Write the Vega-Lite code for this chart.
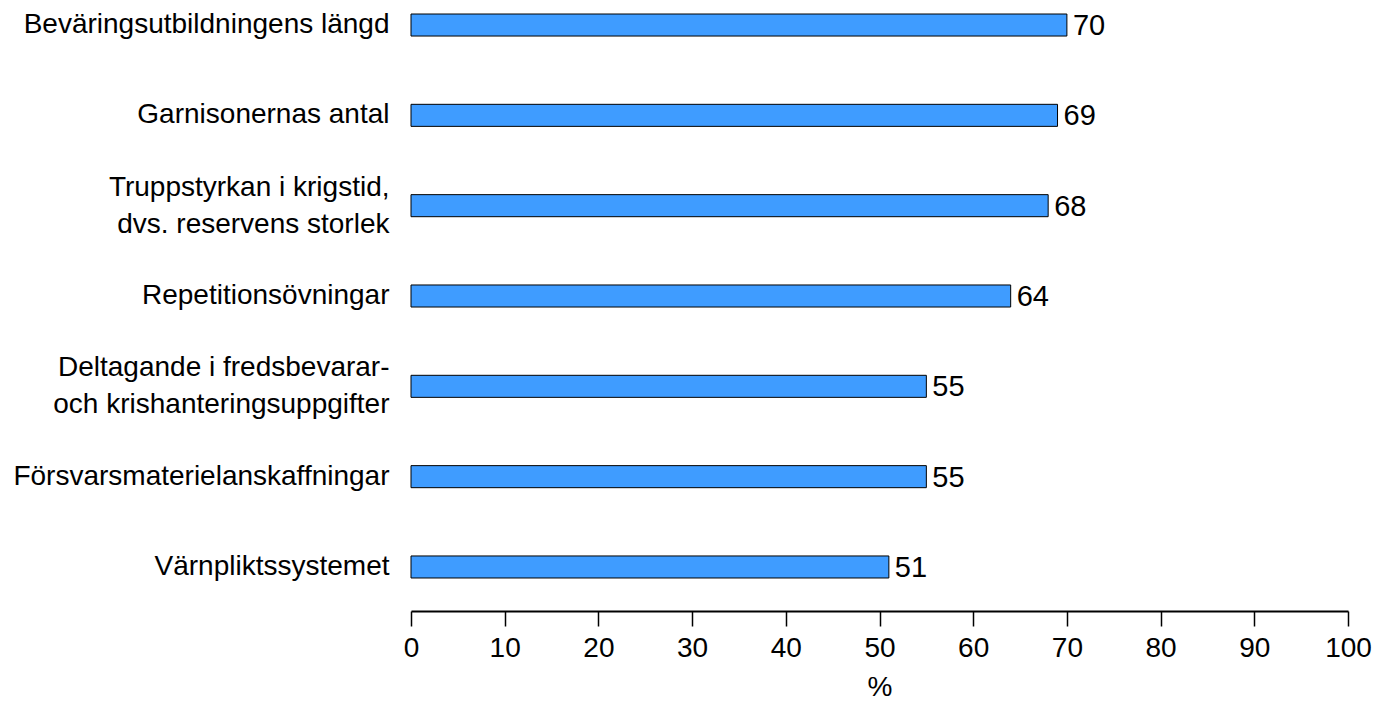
{
  "$schema": "https://vega.github.io/schema/vega-lite/v6.json",
  "autosize": "none",
  "width": 937,
  "height": 592,
  "padding": {"left": 411, "top": 0, "right": 28, "bottom": 110},
  "background": "white",
  "config": {
    "view": {"stroke": null},
    "font": "Liberation Sans",
    "axis": {"labelFont": "Liberation Sans", "titleFont": "Liberation Sans", "labelColor": "black", "titleColor": "black"}
  },
  "data": {
    "values": [
      {"kategori": "Beväringsutbildningens längd", "procent": 70},
      {"kategori": "Garnisonernas antal", "procent": 69},
      {"kategori": "Truppstyrkan i krigstid,\ndvs. reservens storlek", "procent": 68},
      {"kategori": "Repetitionsövningar", "procent": 64},
      {"kategori": "Deltagande i fredsbevarar-\noch krishanteringsuppgifter", "procent": 55},
      {"kategori": "Försvarsmaterielanskaffningar", "procent": 55},
      {"kategori": "Värnpliktssystemet", "procent": 51}
    ]
  },
  "encoding": {
    "y": {
      "field": "kategori",
      "type": "nominal",
      "sort": null,
      "scale": {"paddingInner": 0.756, "paddingOuter": 0.155},
      "axis": {
        "title": null,
        "domain": false,
        "ticks": false,
        "labelFontSize": 28,
        "labelPadding": 22,
        "labelLimit": 0,
        "labelLineHeight": 37,
        "labelOffset": {"condition": {"test": "indexof(datum.value, '\\n') >= 0", "value": -18}, "value": 0},
        "labelExpr": "split(datum.label, '\\n')"
      }
    },
    "x": {
      "field": "procent",
      "type": "quantitative",
      "scale": {"domain": [0, 100], "nice": false},
      "axis": {
        "title": "%",
        "values": [0, 10, 20, 30, 40, 50, 60, 70, 80, 90, 100],
        "offset": 19,
        "grid": false,
        "domainColor": "black",
        "domainWidth": 2,
        "tickColor": "black",
        "tickWidth": 1.5,
        "tickSize": 15,
        "labelFontSize": 28,
        "labelPadding": 8,
        "labelFlush": false,
        "titleFontSize": 28,
        "titleFontWeight": "normal",
        "titlePadding": 11
      }
    }
  },
  "layer": [
    {
      "mark": {"type": "bar", "color": "#3F9CFF", "stroke": "black", "strokeWidth": 1}
    },
    {
      "mark": {"type": "text", "align": "left", "baseline": "middle", "dx": 6, "dy": 1, "fontSize": 29, "color": "black"},
      "encoding": {"text": {"field": "procent", "type": "quantitative"}}
    }
  ]
}
